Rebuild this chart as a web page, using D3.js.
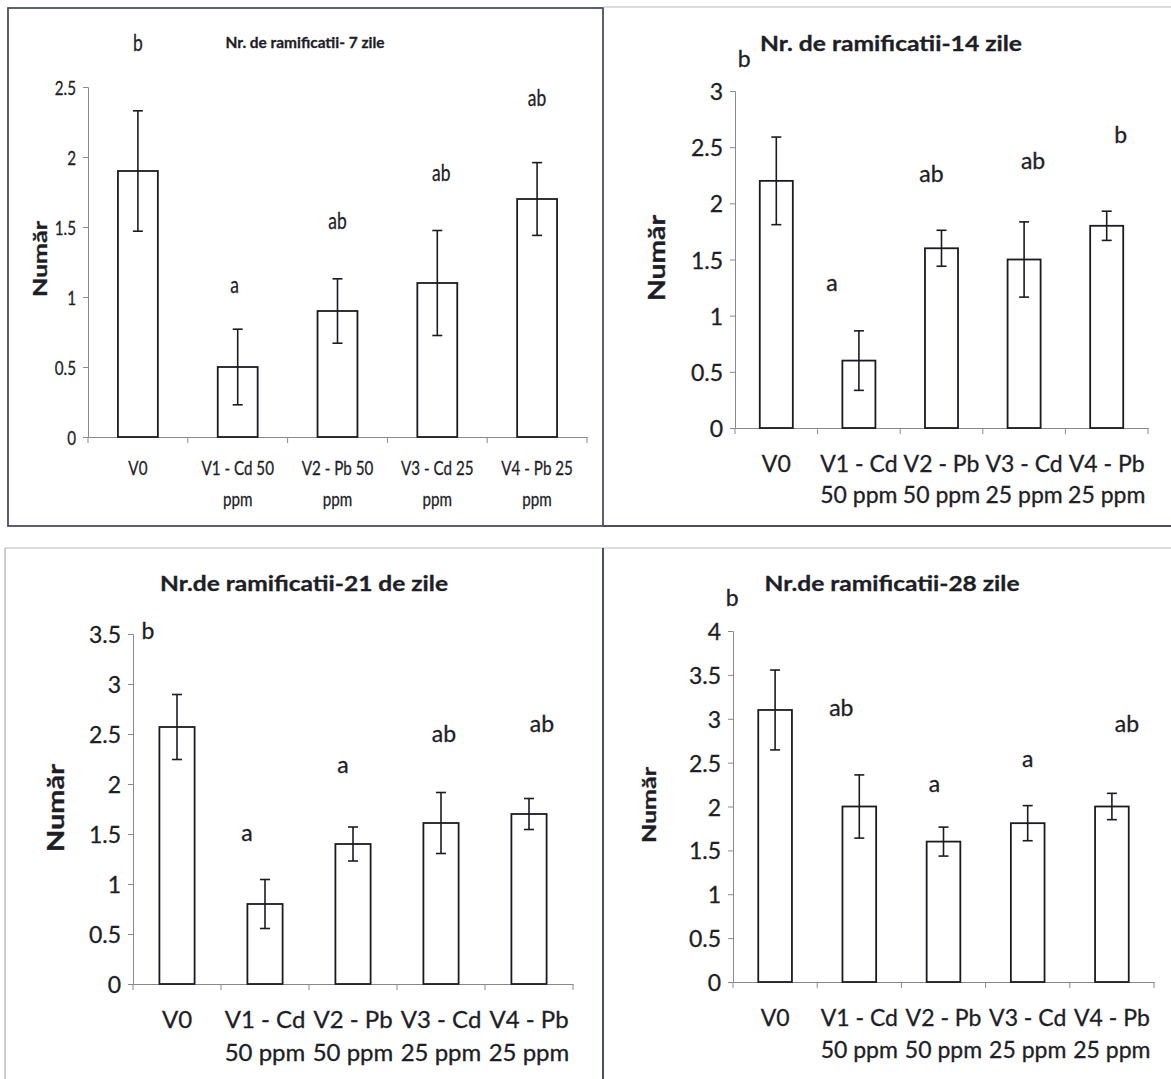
<!DOCTYPE html>
<html>
<head>
<meta charset="utf-8">
<script src="https://cdn.jsdelivr.net/npm/d3@7"></script>
<style>
  html, body { margin: 0; padding: 0; background: #fff; }
  svg { display: block; }
  text { font-family: Lato, "Open Sans", "DejaVu Sans", sans-serif; fill: #1e1e26; stroke: #1e1e26; stroke-width: 0.3px; }
</style>
</head>
<body>
<svg id="chart" width="1171" height="1079"></svg>
<script>
// Branching counts (mean ± error) per treatment, at 7, 14, 21 and 28 days
const categories = ["V0", "V1 - Cd 50 ppm", "V2 - Pb 50 ppm", "V3 - Cd 25 ppm", "V4 - Pb 25 ppm"];
const labels7 = [["V0"], ["V1 - Cd 50", "ppm"], ["V2 - Pb 50", "ppm"], ["V3 - Cd 25", "ppm"], ["V4 - Pb 25", "ppm"]];
const labelsLater = [["V0"], ["V1 - Cd", "50 ppm"], ["V2 - Pb", "50 ppm"], ["V3 - Cd", "25 ppm"], ["V4 - Pb", "25 ppm"]];

const means7 = [1.9, 0.5, 0.9, 1.1, 1.7];
const errors7 = [0.43, 0.27, 0.23, 0.375, 0.26];
const letters7 = ["b", "a", "ab", "ab", "ab"];
const ticks7 = [0, 0.5, 1, 1.5, 2, 2.5];

const means14 = [2.2, 0.6, 1.6, 1.5, 1.8];
const errors14 = [0.39, 0.265, 0.16, 0.335, 0.13];
const letters14 = ["b", "a", "ab", "ab", "b"];
const ticks14 = [0, 0.5, 1, 1.5, 2, 2.5, 3];

const means21 = [2.57, 0.8, 1.4, 1.61, 1.7];
const errors21 = [0.325, 0.245, 0.17, 0.305, 0.155];
const letters21 = ["b", "a", "a", "ab", "ab"];
const ticks21 = [0, 0.5, 1, 1.5, 2, 2.5, 3, 3.5];

const means28 = [3.1, 2.0, 1.6, 1.81, 2.0];
const errors28 = [0.455, 0.36, 0.165, 0.2, 0.15];
const letters28 = ["b", "ab", "a", "a", "ab"];
const ticks28 = [0, 0.5, 1, 1.5, 2, 2.5, 3, 3.5, 4];

const titles = ["Nr. de ramificatii- 7 zile", "Nr. de ramificatii-14 zile", "Nr.de ramificatii-21 de zile", "Nr.de ramificatii-28 zile"];
const yTitle = "Număr";

// Layout of each panel (pixels), letter anchors in axis units
const panels = [
  { means: means7, errors: errors7, letters: letters7, ticks: ticks7, labels: labels7, title: titles[0],
    left: 88, right: 587, bottom: 437, top: 87,
    letterAt: [2.82, 1.09, 1.55, 1.89, 2.43], letterDx: [0, -3, 0, 4, 0],
    tickFont: 20, catFont: 20, letterFont: 23, squeeze: 0.76,
    catDy: [30, 61], titleX: 305, titleY: 42, titleW: 159, titleFont: 16,
    yLabX: 40, yLabY: 259, yLabFont: 18, yLabW: 76 },
  { means: means14, errors: errors14, letters: letters14, ticks: ticks14, labels: labelsLater, title: titles[1],
    left: 735, right: 1148, bottom: 428, top: 91,
    letterAt: [3.29, 1.30, 2.27, 2.39, 2.62], letterDx: [-32, -27, -10, 9, 14],
    tickFont: 23, catFont: 23, letterFont: 23, squeeze: 1,
    catDy: [35, 66], titleX: 891, titleY: 43, titleW: 262, titleFont: 20,
    yLabX: 656, yLabY: 258, yLabFont: 22, yLabW: 86 },
  { means: means21, errors: errors21, letters: letters21, ticks: ticks21, labels: labelsLater, title: titles[2],
    left: 133, right: 573, bottom: 984, top: 634,
    letterAt: [3.54, 1.52, 2.2, 2.51, 2.61], letterDx: [-29, -18, -10, 3, 13],
    tickFont: 23, catFont: 24, letterFont: 23, squeeze: 1,
    catDy: [34, 67], titleX: 304, titleY: 583, titleW: 288, titleFont: 20,
    yLabX: 55, yLabY: 808, yLabFont: 22, yLabW: 88 },
  { means: means28, errors: errors28, letters: letters28, ticks: ticks28, labels: labelsLater, title: titles[3],
    left: 733, right: 1154, bottom: 982, top: 631,
    letterAt: [4.39, 3.13, 2.27, 2.55, 2.95], letterDx: [-43, -18, -9, 0, 15],
    tickFont: 23, catFont: 23, letterFont: 23, squeeze: 1,
    catDy: [35, 67], titleX: 892, titleY: 583, titleW: 255, titleFont: 20,
    yLabX: 648, yLabY: 805, yLabFont: 19, yLabW: 76 }
];

const svg = d3.select("#chart");
const ink = "#1b1b22";
const axisGrey = "#8a8a8a";

// Frames around the four panels
const frames = svg.append("g").attr("fill", "none");
frames.append("rect").attr("x", 8).attr("y", 8).attr("width", 595).attr("height", 518)
  .attr("stroke", "#4a4f5c").attr("stroke-width", 1.8);
frames.append("line").attr("x1", 603).attr("x2", 1171).attr("y1", 7).attr("y2", 7)
  .attr("stroke", "#b8b8b8").attr("stroke-width", 1);
frames.append("line").attr("x1", 603).attr("x2", 1171).attr("y1", 526).attr("y2", 526)
  .attr("stroke", "#4a4f5c").attr("stroke-width", 2);
frames.append("line").attr("x1", 5).attr("x2", 1171).attr("y1", 548).attr("y2", 548)
  .attr("stroke", "#bdbdbd").attr("stroke-width", 1);
frames.append("line").attr("x1", 5).attr("x2", 5).attr("y1", 548).attr("y2", 1079)
  .attr("stroke", "#9a9a9a").attr("stroke-width", 1);
frames.append("line").attr("x1", 603).attr("x2", 603).attr("y1", 548).attr("y2", 1079)
  .attr("stroke", "#4a4f5c").attr("stroke-width", 2);

// Text helper with optional horizontal squeeze (condensed face look)
function label(g, str, x, y, size, opts = {}) {
  const sq = opts.squeeze || 1;
  const t = g.append("text")
    .attr("transform", `translate(${x},${y})` + (opts.rotate ? ` rotate(${opts.rotate})` : "") + ` scale(${sq},1)`)
    .attr("text-anchor", opts.anchor || "middle")
    .attr("dominant-baseline", "central")
    .attr("font-size", size)
    .attr("font-weight", opts.bold ? 700 : 400)
    .text(str);
  if (opts.width) t.attr("textLength", opts.width / sq).attr("lengthAdjust", "spacingAndGlyphs");
  return t;
}

panels.forEach(p => {
  const g = svg.append("g");
  const maxV = p.ticks[p.ticks.length - 1];
  const x = d3.scaleBand().domain(categories).range([p.left, p.right]).paddingInner(0).paddingOuter(0);
  const y = d3.scaleLinear().domain([0, maxV]).range([p.bottom, p.top]);
  const barW = x.bandwidth() * 0.4;

  // Y axis
  const yAxis = g.append("g").attr("transform", `translate(${p.left},0)`)
    .call(d3.axisLeft(y).tickValues(p.ticks).tickSize(5).tickFormat(() => ""));
  yAxis.selectAll("path, line").attr("stroke", axisGrey).attr("stroke-width", 1);
  p.ticks.forEach(v => label(g, d3.format("")(v), p.left - 12, y(v), p.tickFont, { anchor: "end", squeeze: p.squeeze }));

  // X axis with ticks at the category boundaries
  const xAxis = g.append("g").attr("transform", `translate(0,${p.bottom})`)
    .call(d3.axisBottom(x).tickSize(0).tickFormat(() => ""));
  xAxis.select("path").attr("stroke", axisGrey).attr("stroke-width", 1);
  const bounds = categories.map(c => x(c)).concat([x(categories[categories.length - 1]) + x.step()]);
  g.selectAll(".xb").data(bounds).join("line")
    .attr("x1", d => d).attr("x2", d => d)
    .attr("y1", p.bottom).attr("y2", p.bottom + 6)
    .attr("stroke", axisGrey).attr("stroke-width", 1);

  // Category labels
  categories.forEach((c, i) => {
    const cx = x(c) + x.bandwidth() / 2;
    p.labels[i].forEach((line, j) => label(g, line, cx, p.bottom + p.catDy[j], p.catFont, { squeeze: p.squeeze }));
  });

  // Bars
  g.selectAll(".bar").data(p.means).join("rect")
    .attr("x", (d, i) => x(categories[i]) + (x.bandwidth() - barW) / 2)
    .attr("y", d => y(d))
    .attr("width", barW)
    .attr("height", d => y(0) - y(d))
    .attr("fill", "#fff").attr("stroke", ink).attr("stroke-width", 1.8);

  // Error bars
  const cap = 5;
  p.means.forEach((m, i) => {
    const cx = x(categories[i]) + x.bandwidth() / 2;
    const lo = y(m - p.errors[i]), hi = y(m + p.errors[i]);
    const eb = g.append("g").attr("stroke", ink).attr("stroke-width", 1.6);
    eb.append("line").attr("x1", cx).attr("x2", cx).attr("y1", lo).attr("y2", hi);
    eb.append("line").attr("x1", cx - cap).attr("x2", cx + cap).attr("y1", lo).attr("y2", lo);
    eb.append("line").attr("x1", cx - cap).attr("x2", cx + cap).attr("y1", hi).attr("y2", hi);
  });

  // Significance letters
  p.letters.forEach((l, i) => {
    const cx = x(categories[i]) + x.bandwidth() / 2 + p.letterDx[i];
    label(g, l, cx, y(p.letterAt[i]), p.letterFont, { squeeze: p.squeeze });
  });

  // Title and y-axis title
  label(g, p.title, p.titleX, p.titleY, p.titleFont, { bold: true, width: p.titleW, squeeze: p.squeeze });
  label(g, yTitle, p.yLabX, p.yLabY, p.yLabFont, { bold: true, rotate: -90, width: p.yLabW });
});
</script>
</body>
</html>
